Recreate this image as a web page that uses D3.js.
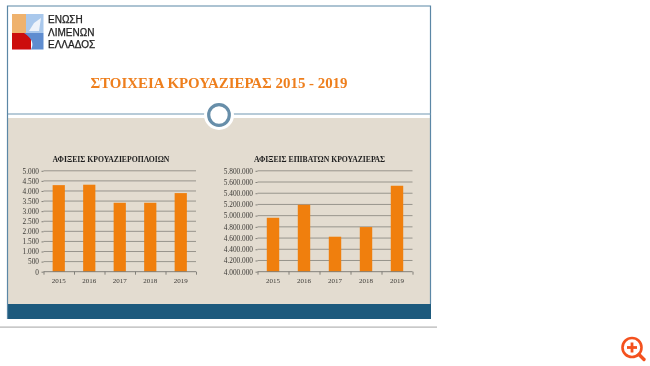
<!DOCTYPE html>
<html><head><meta charset="utf-8">
<script src="https://cdn.jsdelivr.net/npm/d3@7"></script>
<style>html,body{margin:0;padding:0;background:#fff}svg{display:block}</style>
</head><body><div id="c"></div>
<script>
const years = ["2015","2016","2017","2018","2019"];
const shipArrivals = [4290,4310,3415,3415,3895];
const paxArrivals = [4962000,5194000,4624000,4796000,5533000];
const shipTicks = [0,500,1000,1500,2000,2500,3000,3500,4000,4500,5000];
const paxTicks = [4000000,4200000,4400000,4600000,4800000,5000000,5200000,5400000,5600000,5800000];
const titleText = "ΣΤΟΙΧΕΙΑ ΚΡΟΥΑΖΙΕΡΑΣ 2015 - 2019";
const shipTitle = "ΑΦΙΞΕΙΣ ΚΡΟΥΑΖΙΕΡΟΠΛΟΙΩΝ";
const paxTitle = "ΑΦΙΞΕΙΣ ΕΠΙΒΑΤΩΝ ΚΡΟΥΑΖΙΕΡΑΣ";
const logoLines = ["ΕΝΩΣΗ","ΛΙΜΕΝΩΝ","ΕΛΛΑΔΟΣ"];

const fmt = v => d3.format(",")(v).replace(/,/g,".");
const svg = d3.select("#c").append("svg").attr("width",650).attr("height",366);
const defs = svg.append("defs");
defs.append("filter").attr("id","soft").append("feGaussianBlur").attr("stdDeviation",0.4);
const serif = "'Liberation Serif',serif";

// panel
svg.append("rect").attr("x",7.5).attr("y",6).attr("width",423.5).attr("height",313).attr("fill","#fff");
svg.append("rect").attr("x",8).attr("y",118).attr("width",423).attr("height",186).attr("fill","#e3dcd0");
svg.append("rect").attr("x",7).attr("y",304).attr("width",424).attr("height",15).attr("fill","#1d5a7d");
svg.append("path").attr("d","M7.5,319V6H430.5V304").attr("fill","none").attr("stroke","#5b87a6").attr("stroke-width",1.2);
svg.append("line").attr("x1",8).attr("x2",431).attr("y1",114).attr("y2",114).attr("stroke","#7198b2").attr("stroke-width",1.2);
svg.append("rect").attr("x",0).attr("y",326.5).attr("width",437).attr("height",1.2).attr("fill","#b3b3b3");
svg.append("circle").attr("cx",219).attr("cy",115).attr("r",15).attr("fill","#fff");
svg.append("circle").attr("cx",219).attr("cy",115).attr("r",10.3).attr("fill","#fff").attr("stroke","#678ea9").attr("stroke-width",3.2);

// logo
const logo = svg.append("g").attr("filter","url(#soft)");
logo.append("rect").attr("x",12).attr("y",14).attr("width",15).attr("height",19).attr("fill","#efb26d");
logo.append("rect").attr("x",26).attr("y",14).attr("width",17.5).attr("height",19).attr("fill","#a9c8ec");
logo.append("rect").attr("x",12).attr("y",33).attr("width",19).attr("height",16.5).attr("fill","#cc0a0f");
logo.append("path").attr("d","M24,33H43.5V49.5H31Q36,41 24,33Z").attr("fill","#5f8dd0");
logo.append("path").attr("d","M29,31L34,23L41,18L39,31Z").attr("fill","#eef3fa");
logo.selectAll("text").data(logoLines).join("text")
  .attr("x",48).attr("y",(d,i)=>23+i*12.7)
  .attr("font-family","'Liberation Sans',sans-serif").attr("font-size",10).attr("fill","#1d1d1d")
  .attr("stroke","#1d1d1d").attr("stroke-width",0.25)
  .text(d=>d);

// title
svg.append("text").attr("x",219).attr("y",88).attr("text-anchor","middle")
  .attr("font-family",serif).attr("font-size",14.9).attr("font-weight","bold").attr("fill","#ee7f1e")
  .attr("filter","url(#soft)").text(titleText);

function chart(values, ticks, domain, x0, x1, title, titleX){
  const y0 = 271.7, y1 = 170.8;
  const x = d3.scaleBand().domain(years).range([x0,x1]).paddingInner(0.6).paddingOuter(0.3);
  const y = d3.scaleLinear().domain(domain).range([y0,y1]);
  const g = svg.append("g").attr("filter","url(#soft)");
  g.selectAll("line.grid").data(ticks.filter(t=>t!==domain[0])).join("line").attr("class","grid")
    .attr("x1",x0).attr("x2",x1).attr("y1",d=>y(d)).attr("y2",d=>y(d)).attr("stroke","#8e8c85").attr("stroke-width",0.9);
  g.selectAll("rect").data(values).join("rect")
    .attr("x",(d,i)=>x(years[i])).attr("width",x.bandwidth())
    .attr("y",d=>y(d)).attr("height",d=>y0-y(d)).attr("fill","#f07f09");
  const ay = d3.axisLeft(y).tickValues(ticks).tickFormat(fmt).tickSize(2).tickPadding(2.5);
  const gy = g.append("g").attr("transform",`translate(${x0},0)`).call(ay);
  const xEdges = d3.axisBottom(d3.scalePoint().domain(d3.range(6)).range([x0,x1])).tickSize(3).tickFormat("");
  const gx = g.append("g").attr("transform",`translate(0,${y0})`).call(xEdges);
  gx.select(".domain").attr("d",`M${x0},0H${x1}`);
  gx.selectAll("line,path").attr("stroke","#77756f").attr("stroke-width",0.9);
  gy.selectAll("line,path").attr("stroke","#77756f").attr("stroke-width",0.9);
  gy.select(".domain").attr("stroke","none");
  gy.selectAll("text").attr("font-family",serif).attr("font-size",7.3).attr("fill","#3c3a36");
  g.selectAll("text.yr").data(years).join("text").attr("class","yr")
    .attr("x",d=>x(d)+x.bandwidth()/2).attr("y",282.5).attr("text-anchor","middle")
    .attr("font-family",serif).attr("font-size",7).attr("fill","#3c3a36").text(d=>d);
  g.append("text").attr("x",titleX).attr("y",161.5).attr("text-anchor","middle")
    .attr("font-family",serif).attr("font-size",7.7).attr("font-weight","bold").attr("fill","#1e1e1e").text(title);
}
chart(shipArrivals, shipTicks, [0,5000], 43.5, 196, shipTitle, 111);
chart(paxArrivals, paxTicks, [4000000,5800000], 257.5, 412.5, paxTitle, 319.5);

// zoom icon
const ic = svg.append("g").attr("stroke","#f4511e").attr("fill","none");
ic.append("circle").attr("cx",632).attr("cy",347.5).attr("r",9.5).attr("stroke-width",2.6);
ic.append("line").attr("x1",639).attr("y1",354.5).attr("x2",644).attr("y2",359.5).attr("stroke-width",3.4).attr("stroke-linecap","round");
ic.append("line").attr("x1",627).attr("x2",637).attr("y1",347.5).attr("y2",347.5).attr("stroke-width",2.8);
ic.append("line").attr("x1",632).attr("x2",632).attr("y1",342.5).attr("y2",352.5).attr("stroke-width",2.8);
</script></body></html>
